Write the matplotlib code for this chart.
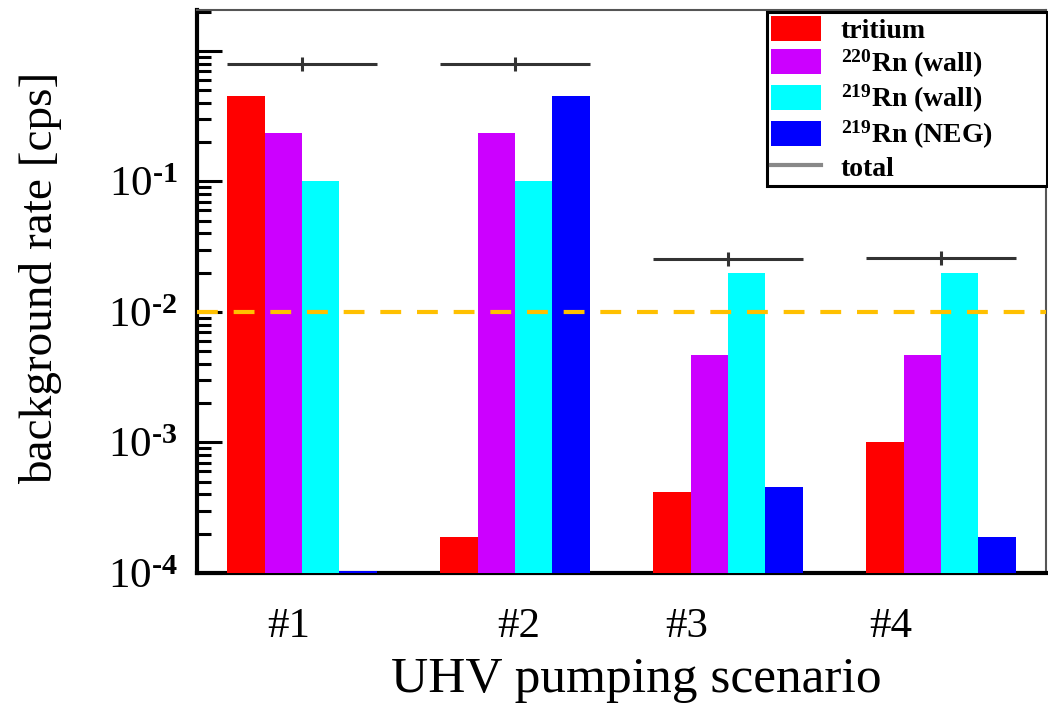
import numpy as np
import matplotlib
matplotlib.use("Agg")
import matplotlib.pyplot as plt
from matplotlib.lines import Line2D
from matplotlib.ticker import LogLocator, NullFormatter

# Données (cps)
scenarios = ['#1', '#2', '#3', '#4']
tritium = [0.448, 1.9e-4, 4.2e-4, 1.0e-3]
rn220_wall = [0.235, 0.235, 4.7e-3, 4.7e-3]
rn219_wall = [0.10, 0.10, 0.0199, 0.0199]
rn219_neg = [1.03e-4, 0.455, 4.55e-4, 1.9e-4]
total = [0.80, 0.79, 0.0255, 0.026]
limit = 1e-2
ytick_vals = [1e-4, 1e-3, 1e-2, 1e-1, 1]
# trait d'union U+2010 pour garder un petit tiret en exposant
ytick_labels = [r'$10^{\mathbf{‐4}}$', r'$10^{\mathbf{‐3}}$',
                r'$10^{\mathbf{‐2}}$', r'$10^{\mathbf{‐1}}$', '']

plt.rcParams['font.family'] = ['Liberation Serif', 'DejaVu Serif']
plt.rcParams['mathtext.fontset'] = 'custom'
plt.rcParams['mathtext.rm'] = 'Liberation Serif'
plt.rcParams['mathtext.bf'] = 'Liberation Serif:bold'
plt.rcParams['mathtext.it'] = 'Liberation Serif:italic'

fig = plt.figure(figsize=(10.48, 7.15), dpi=100)
ax = fig.add_axes([197 / 1048, 1 - 573 / 715, 849 / 1048, 563 / 715])
ax.set_yscale('log')

x = np.arange(1, len(scenarios) + 1)
w = 0.176
series = [
    (tritium, '#ff0000', 'tritium'),
    (rn220_wall, '#cc00ff', r'$^{\mathbf{220}}$Rn (wall)'),
    (rn219_wall, '#00ffff', r'$^{\mathbf{219}}$Rn (wall)'),
    (rn219_neg, '#0000ff', r'$^{\mathbf{219}}$Rn (NEG)'),
]
handles = []
for i, (vals, col, lab) in enumerate(series):
    b = ax.bar(x + (i - 1.5) * w, vals, width=w, color=col, label=lab,
               zorder=3, linewidth=0)
    handles.append(b)

# total (ligne + petite barre verticale)
ax.hlines(total, x - 2 * w, x + 2 * w, color='#333333', lw=2.2, zorder=5)
ax.plot(x, total, ls='none', marker='|', ms=10, mew=2.2, color='#333333', zorder=5)

# limite
ax.axhline(limit, color='#ffc000', lw=3, dashes=(5, 3.8), zorder=4)

ax.set_xlim(0.507, 4.493)
ax.set_ylim(1e-4, 2.06)

ax.set_yticks(ytick_vals)
ax.set_yticklabels(ytick_labels)
ax.yaxis.set_minor_locator(LogLocator(base=10, subs=range(2, 10)))
ax.yaxis.set_minor_formatter(NullFormatter())
ax.tick_params(axis='y', which='major', direction='in', length=18, width=2.2,
               labelsize=31, pad=14)
ax.tick_params(axis='y', which='minor', direction='in', length=10, width=2.2)

ax.set_xticks([0.939, 2.019, 2.808, 3.765])
ax.set_xticklabels(scenarios)
ax.tick_params(axis='x', length=0, labelsize=31, pad=25)

for s in ['left', 'bottom']:
    ax.spines[s].set_linewidth(3)
    ax.spines[s].set_color('black')
for s in ['top', 'right']:
    ax.spines[s].set_linewidth(1.5)
    ax.spines[s].set_color('#555555')

ax.set_xlabel('UHV pumping scenario', fontsize=37)
ax.xaxis.set_label_coords(0.518, -0.148)
ax.set_ylabel('background rate [cps]', fontsize=34)
ax.yaxis.set_label_coords(-0.159, 0.524)

handles.append(Line2D([], [], color='#888888', lw=3, label='total'))
leg = ax.legend(handles=handles, loc='upper left',
                bbox_to_anchor=(570 / 849, 0, 280 / 849, 561 / 563),
                mode='expand', borderaxespad=0, fancybox=False, framealpha=1,
                edgecolor='black', prop={'weight': 'bold', 'size': 20},
                handlelength=1.8, handleheight=1.0, labelspacing=0.12,
                handletextpad=0.7, borderpad=0.15)
leg.get_frame().set_linewidth(2.2)
leg.set_zorder(10)

fig.savefig('out.png', dpi=100)
